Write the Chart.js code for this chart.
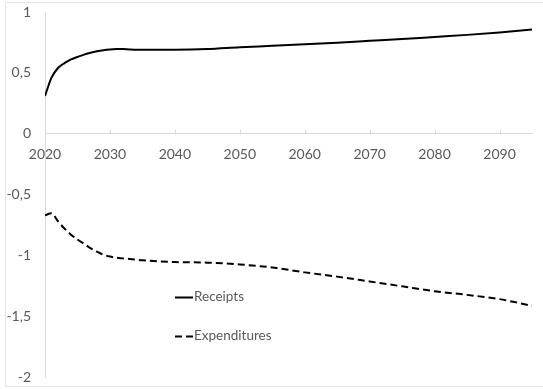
<!DOCTYPE html>
<html>
<head>
<meta charset="utf-8">
<script src="https://cdn.jsdelivr.net/npm/chart.js@4/dist/chart.umd.min.js"></script>
<style>
  html, body { margin: 0; padding: 0; background: #ffffff; }
  #wrap { position: relative; width: 543px; height: 389px; }
</style>
</head>
<body>
<div id="wrap"><canvas id="c" width="543" height="389"></canvas></div>
<script>
// Years on the horizontal axis (annual early on, then every five years)
const years = [2020, 2021, 2022, 2023, 2024, 2025, 2026, 2027, 2028, 2029, 2030,
               2031, 2032, 2033, 2034, 2035, 2040, 2045, 2050, 2055, 2060, 2065,
               2070, 2075, 2080, 2085, 2090, 2095];

// Receipts (positive side)
const receipts = [0.31, 0.46, 0.54, 0.58, 0.61, 0.63, 0.65, 0.665, 0.677, 0.686, 0.692,
                  0.695, 0.695, 0.692, 0.69, 0.69, 0.69, 0.695, 0.71, 0.722, 0.735, 0.748,
                  0.763, 0.778, 0.795, 0.812, 0.832, 0.856];

// Expenditures (negative side)
const expenditures = [-0.67, -0.655, -0.72, -0.78, -0.83, -0.87, -0.905, -0.94, -0.97, -0.995, -1.01,
                      -1.02, -1.025, -1.03, -1.035, -1.04, -1.055, -1.06, -1.075, -1.10, -1.14, -1.175,
                      -1.215, -1.255, -1.295, -1.325, -1.36, -1.415];

const seriesNames = ['Receipts', 'Expenditures'];

const FONT = 'Lato, "Open Sans", sans-serif';
const TEXT = '#595959';
const AXIS = '#d9d9d9';
const DASH = [7, 4];

const toPoints = vals => years.map((yr, i) => ({ x: yr, y: vals[i] }));

// Outer frame around the whole chart
const framePlugin = {
  id: 'frame',
  beforeDraw(chart) {
    const ctx = chart.ctx;
    ctx.save();
    ctx.strokeStyle = '#e3e3e3';
    ctx.lineWidth = 1;
    ctx.strokeRect(5.5, 2.5, chart.width + 20, chart.height - 5);
    ctx.restore();
  }
};

// Short tick marks rising from the horizontal axis
const innerTicksPlugin = {
  id: 'innerTicks',
  afterDatasetsDraw(chart) {
    const xs = chart.scales.x, ys = chart.scales.y;
    const y0 = Math.round(ys.getPixelForValue(0)) + 0.5;
    const ctx = chart.ctx;
    ctx.save();
    ctx.strokeStyle = AXIS;
    ctx.lineWidth = 1;
    xs.ticks.forEach(t => {
      const px = Math.round(xs.getPixelForValue(t.value)) + 0.5;
      ctx.beginPath();
      ctx.moveTo(px, y0);
      ctx.lineTo(px, y0 - 5);
      ctx.stroke();
    });
    ctx.restore();
  }
};

// Legend drawn inside the plot area
const innerLegendPlugin = {
  id: 'innerLegend',
  afterDraw(chart) {
    const a = chart.chartArea;
    const ctx = chart.ctx;
    const x0 = a.left + 130;
    const rows = [a.top + 285, a.top + 324];
    ctx.save();
    ctx.font = '13.5px ' + FONT;
    ctx.textBaseline = 'middle';
    chart.data.datasets.forEach((ds, i) => {
      const y = rows[i] + 0.5;
      ctx.strokeStyle = ds.borderColor;
      ctx.lineWidth = ds.borderWidth;
      ctx.setLineDash(ds.borderDash || []);
      ctx.beginPath();
      ctx.moveTo(x0, y);
      ctx.lineTo(x0 + 18, y);
      ctx.stroke();
      ctx.setLineDash([]);
      ctx.fillStyle = TEXT;
      ctx.fillText(ds.label, x0 + 19, rows[i]);
    });
    ctx.restore();
  }
};

new Chart(document.getElementById('c'), {
  type: 'line',
  data: {
    datasets: [
      {
        label: seriesNames[0],
        data: toPoints(receipts),
        borderColor: '#000000',
        borderWidth: 2,
        pointRadius: 0,
        cubicInterpolationMode: 'monotone',
        fill: false
      },
      {
        label: seriesNames[1],
        data: toPoints(expenditures),
        borderColor: '#000000',
        borderWidth: 2,
        borderDash: DASH,
        pointRadius: 0,
        cubicInterpolationMode: 'monotone',
        fill: false
      }
    ]
  },
  options: {
    responsive: false,
    animation: false,
    devicePixelRatio: 1,
    layout: { padding: { top: 12, right: 11, bottom: 12, left: 0 } },
    plugins: {
      legend: { display: false },
      tooltip: { enabled: false }
    },
    scales: {
      x: {
        type: 'linear',
        position: { y: 0 },
        min: 2020,
        max: 2095,
        afterFit: s => { s.height = 0; s.paddingLeft = 0; s.paddingRight = 0; s.paddingTop = 0; s.paddingBottom = 0; },
        grid: { display: false, drawTicks: false },
        border: { display: true, color: AXIS, width: 1 },
        ticks: {
          stepSize: 10,
          includeBounds: false,
          padding: 12,
          color: TEXT,
          font: { family: FONT, size: 14 },
          maxRotation: 0,
          callback: v => String(v)
        }
      },
      y: {
        type: 'linear',
        min: -2,
        max: 1,
        afterFit: s => { s.width = 45; s.paddingTop = 0; s.paddingBottom = 0; },
        grid: { display: false, drawTicks: false },
        border: { display: true, color: AXIS, width: 1 },
        ticks: {
          stepSize: 0.5,
          padding: 14,
          color: TEXT,
          font: { family: FONT, size: 14 },
          callback: v => String(v).replace('.', ',')
        }
      }
    }
  },
  plugins: [framePlugin, innerTicksPlugin, innerLegendPlugin]
});
</script>
</body>
</html>
